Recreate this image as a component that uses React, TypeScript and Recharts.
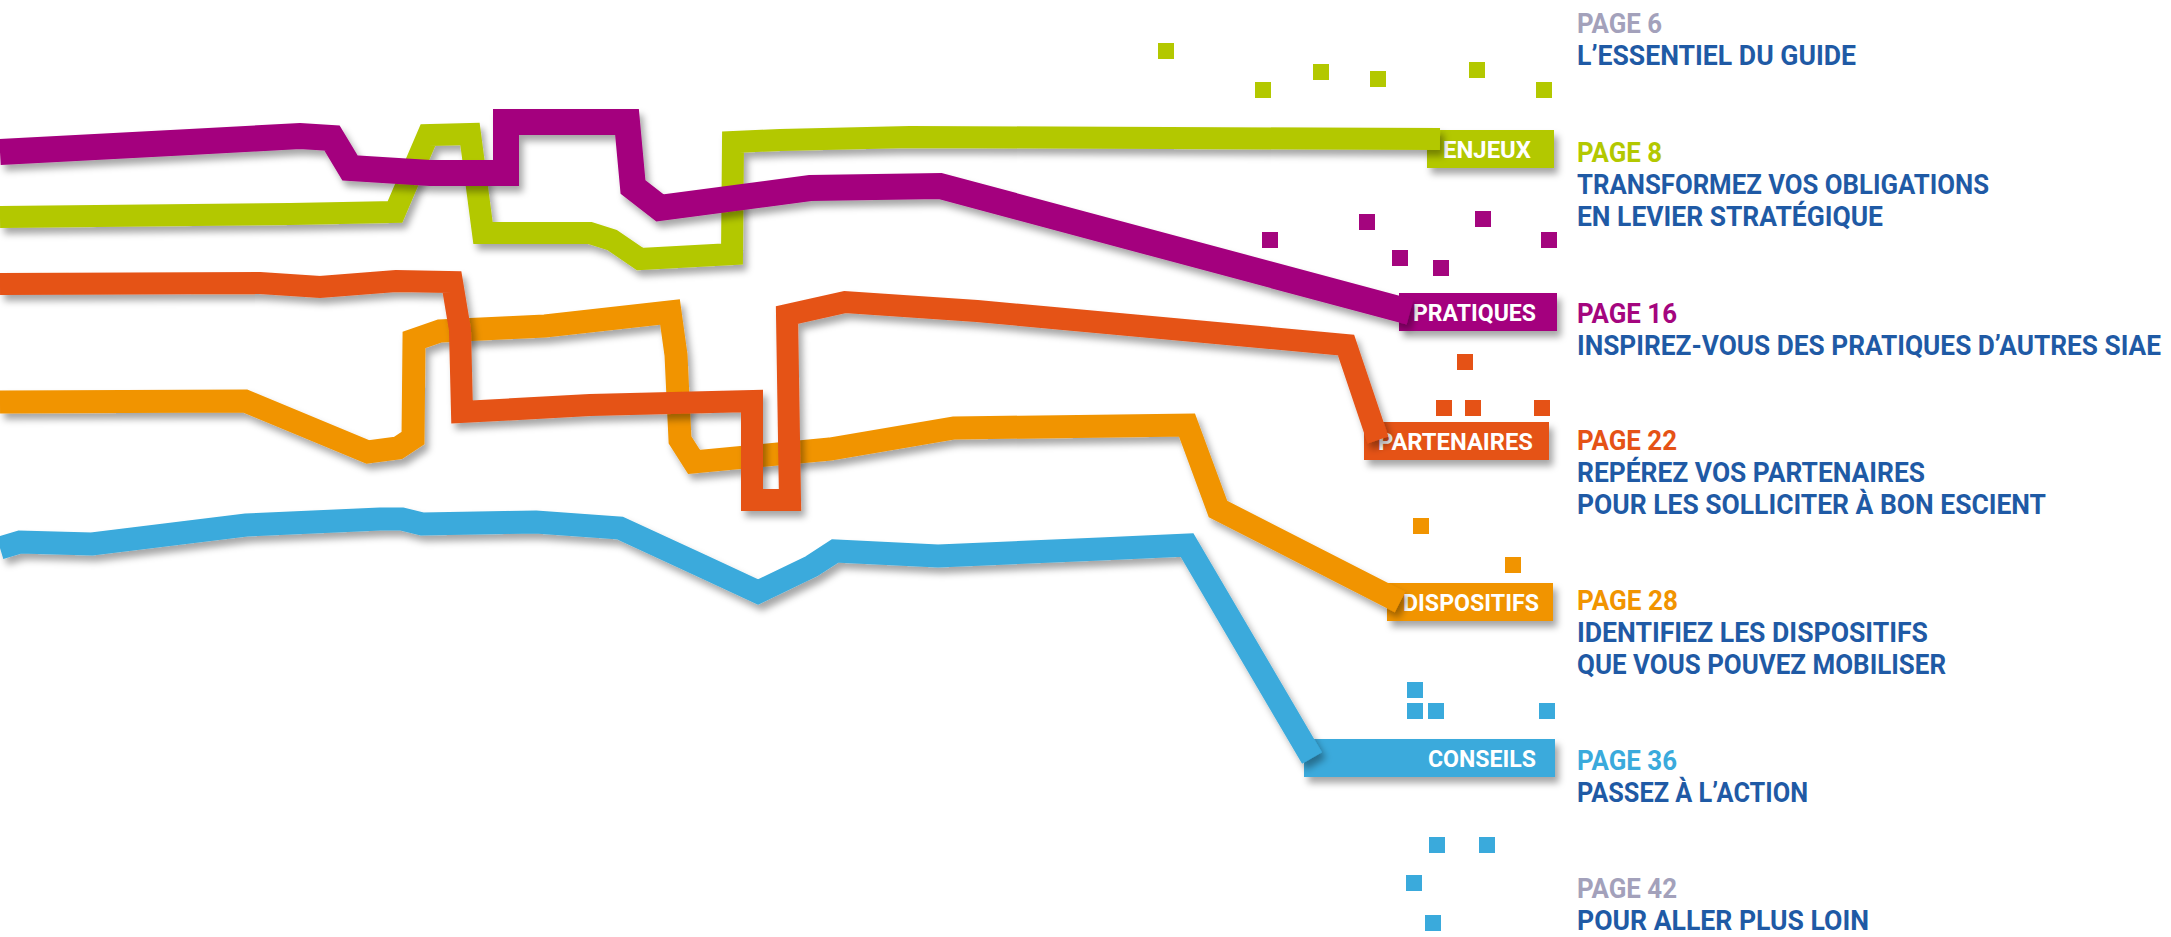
import { ComposedChart, Line, Scatter, XAxis, YAxis, Customized } from 'recharts';

const W = 2171;
const H = 937;

// ribbon paths (x, y in picture units)
const enjeux = [[0, 217], [290, 214], [395, 212], [428, 135], [470, 134], [483, 233], [590, 233], [612, 240], [640, 259], [732, 254], [733, 142], [780, 140], [910, 137], [1440, 139]];
const pratiques = [[0, 152], [190, 142], [300, 136], [332, 138], [350, 168], [430, 173], [506, 173], [506, 122], [627, 122], [633, 187], [660, 208], [810, 188], [940, 186], [1410, 312]];
const partenaires = [[0, 284], [260, 283], [320, 287], [396, 281], [452, 282], [460, 330], [462, 412], [590, 405], [712, 402], [752, 401], [752, 500], [790, 500], [787, 315], [845, 302], [977, 311], [1346, 345], [1378, 440]];
const dispositifs = [[0, 402], [245, 401], [368, 452], [398, 448], [413, 438], [414, 340], [440, 331], [545, 326], [670, 312], [676, 355], [680, 440], [694, 462], [830, 449], [954, 428], [1187, 425], [1218, 509], [1400, 602]];
const conseils = [[0, 548], [20, 542], [92, 544], [246, 525], [380, 519], [402, 519], [422, 524], [536, 522], [620, 528], [700, 565], [758, 592], [812, 566], [835, 551], [938, 556], [1100, 549], [1187, 545], [1312, 758]];

// confetti squares
const greenDots = [[1166, 51], [1263, 90], [1321, 72], [1378, 79], [1477, 70], [1544, 90]];
const magentaDots = [[1270, 240], [1367, 222], [1483, 219], [1549, 240], [1400, 258], [1441, 268]];
const redDots = [[1465, 362], [1444, 408], [1473, 408], [1542, 408]];
const orangeDots = [[1421, 526], [1513, 565]];
const blueDots = [[1415, 690], [1415, 711], [1436, 711], [1547, 711], [1437, 845], [1487, 845], [1414, 883], [1433, 923]];

const labels = ['ENJEUX', 'PRATIQUES', 'PARTENAIRES', 'DISPOSITIFS', 'CONSEILS'];
const pages = ['PAGE 6', 'PAGE 8', 'PAGE 16', 'PAGE 22', 'PAGE 28', 'PAGE 36', 'PAGE 42'];
const descriptions = [
  ['L’ESSENTIEL DU GUIDE'],
  ['TRANSFORMEZ VOS OBLIGATIONS', 'EN LEVIER STRATÉGIQUE'],
  ['INSPIREZ-VOUS DES PRATIQUES D’AUTRES SIAE'],
  ['REPÉREZ VOS PARTENAIRES', 'POUR LES SOLLICITER À BON ESCIENT'],
  ['IDENTIFIEZ LES DISPOSITIFS', 'QUE VOUS POUVEZ MOBILISER'],
  ['PASSEZ À L’ACTION'],
  ['POUR ALLER PLUS LOIN'],
];

const GREEN = '#b3c800';
const MAGENTA = '#a4057e';
const RED = '#e55216';
const ORANGE = '#f19400';
const BLUE = '#3aaadc';
const GREY = '#a3a1bb';
const NAVY = '#1f5aa5';

const labelColors = [GREEN, MAGENTA, RED, ORANGE, BLUE];
const pageColors = [GREY, GREEN, MAGENTA, RED, ORANGE, BLUE, GREY];

// layout of the annotation boxes and the text column
const boxes = [
  { x: 1427, y: 130, w: 127, tx: 1443, tw: 88 },
  { x: 1399, y: 293, w: 158, tx: 1413, tw: 123 },
  { x: 1364, y: 422, w: 185, tx: 1378, tw: 155 },
  { x: 1387, y: 583, w: 166, tx: 1403, tw: 136 },
  { x: 1304, y: 739, w: 251, tx: 1428, tw: 108 },
];
const textX = 1577;
const pageBaselines = [33, 162, 323, 450, 610, 770, 898];
const pageWidths = [85, 85, 100, 100, 101, 100, 100];
const descWidths = [[279], [412, 306], [584], [348, 469], [351, 369], [231], [292]];

const pts = (a: number[][]) => a.map(([x, y]) => ({ x, y }));

const square = (color: string) => (p: any) => (
  <rect x={p.cx - 8} y={p.cy - 8} width={16} height={16} fill={color} />
);

const font = 'Roboto, "DejaVu Sans", sans-serif';

function Overlay() {
  return (
    <g>
      {boxes.map((b, i) => (
        <g key={labels[i]}>
          <rect x={b.x} y={b.y} width={b.w} height={38} fill={labelColors[i]} filter="url(#rs-shadow)" />
          <text x={b.tx} y={b.y + 28} fill="#fff" fontFamily={font} fontWeight={700} fontSize={23}
            textLength={b.tw} lengthAdjust="spacingAndGlyphs">{labels[i]}</text>
        </g>
      ))}
      {pages.map((p, i) => (
        <g key={p}>
          <text x={textX} y={pageBaselines[i]} fill={pageColors[i]} fontFamily={font} fontWeight={700}
            fontSize={27} textLength={pageWidths[i]} lengthAdjust="spacingAndGlyphs">{p}</text>
          {descriptions[i].map((d, j) => (
            <text key={d} x={textX} y={pageBaselines[i] + 32 * (j + 1)} fill={NAVY} fontFamily={font}
              fontWeight={700} fontSize={27} textLength={descWidths[i][j]} lengthAdjust="spacingAndGlyphs">{d}</text>
          ))}
        </g>
      ))}
    </g>
  );
}

export default function App() {
  const ribbons = [
    { data: enjeux, color: GREEN, w: 22 },
    { data: pratiques, color: MAGENTA, w: 26 },
    { data: dispositifs, color: ORANGE, w: 23 },
    { data: partenaires, color: RED, w: 22 },
    { data: conseils, color: BLUE, w: 23 },
  ];
  const dots = [
    { data: greenDots, color: GREEN },
    { data: magentaDots, color: MAGENTA },
    { data: redDots, color: RED },
    { data: orangeDots, color: ORANGE },
    { data: blueDots, color: BLUE },
  ];
  return (
    <div style={{ width: W, height: H, background: '#fff' }}>
      <style>{`body{margin:0}
.recharts-line-curve{filter:url(#rs-shadow);stroke-linejoin:miter;stroke-miterlimit:12}`}</style>
      <svg width={0} height={0} style={{ position: 'absolute' }}>
        <defs>
          <filter id="rs-shadow" x="-20%" y="-30%" width="140%" height="170%">
            <feDropShadow dx={4} dy={6} stdDeviation={3.5} floodColor="#000" floodOpacity={0.35} />
          </filter>
        </defs>
      </svg>
      <ComposedChart width={W} height={H} margin={{ top: 0, right: 0, bottom: 0, left: 0 }}>
        <XAxis type="number" dataKey="x" domain={[0, W]} hide allowDataOverflow />
        <YAxis type="number" dataKey="y" domain={[0, H]} reversed hide allowDataOverflow />
        {ribbons.map((r, i) => (
          <Line key={i} data={pts(r.data)} dataKey="y" type="linear" stroke={r.color} strokeWidth={r.w}
            strokeLinejoin="miter" dot={false} activeDot={false} isAnimationActive={false} />
        ))}
        {dots.map((d, i) => (
          <Scatter key={i} data={pts(d.data)} dataKey="y" shape={square(d.color)} isAnimationActive={false} />
        ))}
        <Customized component={Overlay} />
      </ComposedChart>
    </div>
  );
}
